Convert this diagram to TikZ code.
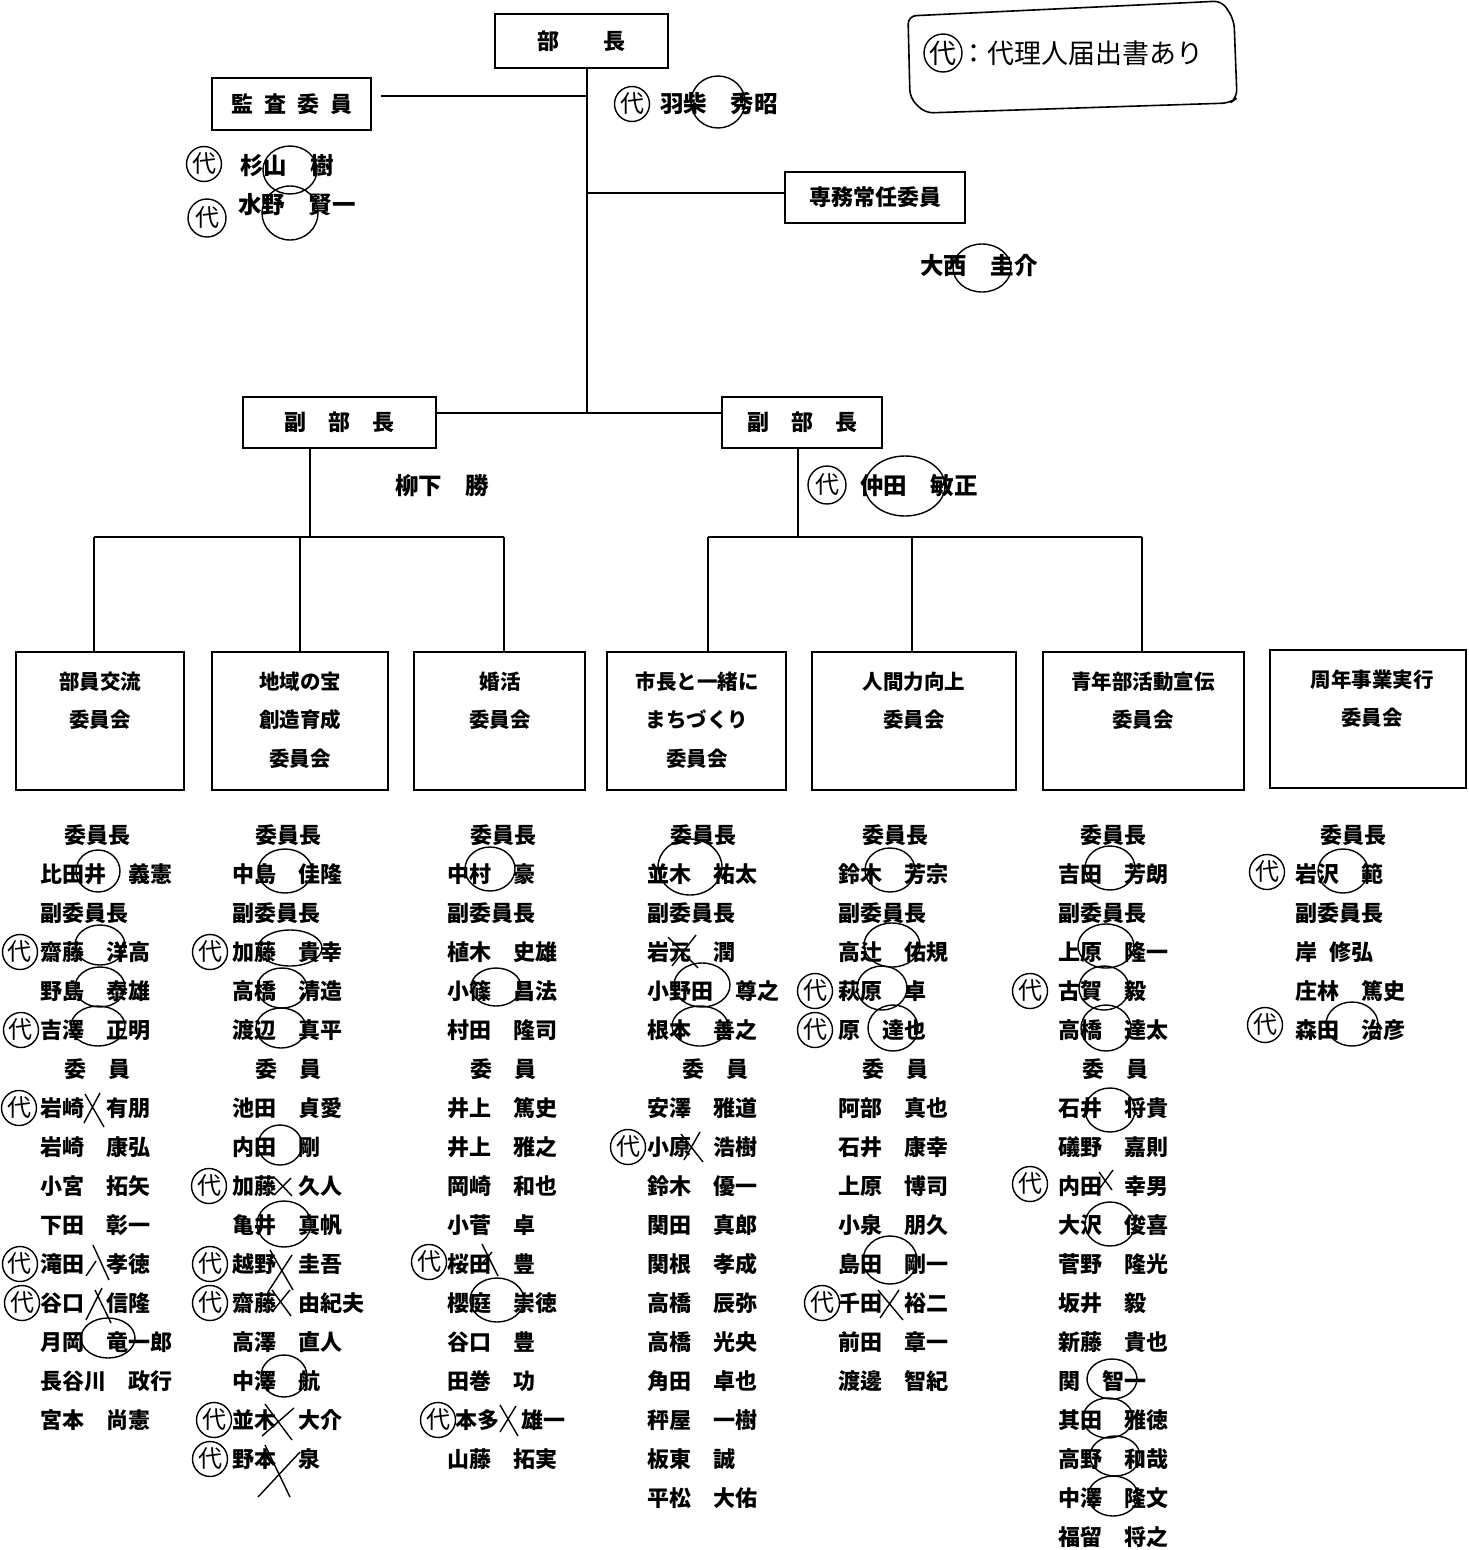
\documentclass[tikz,border=0pt]{standalone}
\usepackage{fontspec}
\newfontfamily\jp{Noto Sans CJK JP}
\begin{document}
\begin{tikzpicture}[x=1pt,y=-1pt,
  obox/.style={draw, line width=1.6pt, inner sep=0pt, font=\jp\bfseries\fontsize{22pt}{22pt}\selectfont},
  cbox/.style={draw, line width=1.6pt, inner sep=0pt},
  ctext/.style={inner sep=0pt, font=\jp\bfseries\fontsize{20.5pt}{20.5pt}\selectfont},
  nm/.style={anchor=west, inner sep=0pt, font=\jp\bfseries\fontsize{22pt}{22pt}\selectfont},
  topnm/.style={inner sep=0pt, font=\jp\bfseries\fontsize{23.5pt}{23.5pt}\selectfont},
  dai/.style={circle, draw, line width=1.4pt, inner sep=0pt, minimum size=35pt, font=\jp\fontsize{24pt}{24pt}\selectfont},
  ringst/.style={line width=1.4pt},
  conn/.style={line width=1.5pt}]
\useasboundingbox (0,0) rectangle (1468,1550);
\fill[white] (0,0) rectangle (1468,1550);

% ---------- top boxes ----------
\node[obox, minimum width=173pt, minimum height=54pt] (bucho) at (581.5,41) {部　　長};
\node[obox, minimum width=159pt, minimum height=52pt] (kansa) at (291.5,104) {監\hspace{11pt}査\hspace{11pt}委\hspace{11pt}員};
\node[obox, minimum width=180pt, minimum height=51pt] (senmu) at (875,197.5) {専務常任委員};
\node[obox, minimum width=193pt, minimum height=51pt] (fuku1) at (339.5,422.5) {副　部　長};
\node[obox, minimum width=160pt, minimum height=51pt] (fuku2) at (802,422.5) {副　部　長};

\coordinate (jA) at (587,96);
\coordinate (jB) at (587,193);
\coordinate (jC) at (587,413);
\coordinate (kA) at (381,96);
\draw[conn] (bucho.south -| jA) -- (jC);
\draw[conn] (kA) -- (jA);
\draw[conn] (jB) -- (senmu.west |- jB);
\draw[conn] (fuku1.east |- jC) -- (fuku2.west |- jC);

% ---------- committee boxes ----------
\node[cbox, minimum width=168pt, minimum height=138pt] (c1) at (100,721) {};
\node[cbox, minimum width=176pt, minimum height=138pt] (c2) at (300,721) {};
\node[cbox, minimum width=171pt, minimum height=138pt] (c3) at (499.5,721) {};
\node[cbox, minimum width=179pt, minimum height=138pt] (c4) at (696.5,721) {};
\node[cbox, minimum width=204pt, minimum height=138pt] (c5) at (914,721) {};
\node[cbox, minimum width=201pt, minimum height=138pt] (c6) at (1143.5,721) {};
\node[cbox, minimum width=196pt, minimum height=138pt] (c7) at (1368,719) {};

\node[ctext] (c1a) at (100,682) {部員交流};
\node[ctext] (c1b) at (100,720) {委員会};
\node[ctext] (c2a) at (300,682) {地域の宝};
\node[ctext] (c2b) at (300,720) {創造育成};
\node[ctext] (c2c) at (300,759) {委員会};
\node[ctext] (c3a) at (500,682) {婚活};
\node[ctext] (c3b) at (500,720) {委員会};
\node[ctext] (c4a) at (697,682) {市長と一緒に};
\node[ctext] (c4b) at (697,720) {まちづくり};
\node[ctext] (c4c) at (697,759) {委員会};
\node[ctext] (c5a) at (914,682) {人間力向上};
\node[ctext] (c5b) at (914,720) {委員会};
\node[ctext] (c6a) at (1143,682) {青年部活動宣伝};
\node[ctext] (c6b) at (1143,720) {委員会};
\node[ctext] (c7a) at (1372,680) {周年事業実行};
\node[ctext] (c7b) at (1372,718) {委員会};

% ---------- sub connectors ----------
\coordinate (lj) at (310,537);
\coordinate (rj) at (798,537);
\coordinate (d1) at (94,537);
\coordinate (d2) at (300,537);
\coordinate (d3) at (504,537);
\coordinate (d4) at (708,537);
\coordinate (d5) at (912,537);
\coordinate (d6) at (1142,537);
\draw[conn] (fuku1.south -| lj) -- (lj);
\draw[conn] (fuku2.south -| rj) -- (rj);
\draw[conn] (d1) -- (d3);
\draw[conn] (d4) -- (d6);
\draw[conn] (d1) -- (d1 |- c1.north);
\draw[conn] (d2) -- (d2 |- c2.north);
\draw[conn] (d3) -- (d3 |- c3.north);
\draw[conn] (d4) -- (d4 |- c4.north);
\draw[conn] (d5) -- (d5 |- c5.north);
\draw[conn] (d6) -- (d6 |- c6.north);

% ---------- officer names ----------
\node[dai] (dHa) at (632,104) {代};
\node[topnm, anchor=west] (hashiba) at (660,104) {羽柴　秀昭};
\draw[ringst] (718,102) ellipse [x radius=27, y radius=26];

\node[dai] (dSu) at (204,164) {代};
\node[topnm, anchor=west] (sugi) at (240,166) {杉山　樹};
\draw[ringst] (290,170) ellipse [x radius=27, y radius=24];
\node[dai, minimum size=38pt] (dMi) at (207,218) {代};
\node[topnm, anchor=west] (mizuno) at (238,205) {水野　賢一};
\draw[ringst] (290,213) ellipse [x radius=28, y radius=27];

\node[topnm] (onishi) at (979,266) {大西　圭介};
\draw[ringst] (982,268) ellipse [x radius=29, y radius=24];

\node[topnm] (yanagi) at (442,486) {柳下　勝};
\node[dai, minimum size=38pt] (dNa) at (827,485) {代};
\node[topnm, anchor=west] (nakata) at (860,486) {仲田　敏正};
\draw[ringst] (905,486) ellipse [x radius=40, y radius=30];

% ---------- legend ----------
\draw[line width=1.6pt, rounded corners=8pt] (910,98) -- (908,16) -- (1222,1) -- (1234,20) -- (1237,98) -- (1230,103) -- (925,113) -- cycle;
\node[dai, minimum size=38pt, font=\jp\fontsize{27pt}{27pt}\selectfont] (lgd) at (943,53) {代};
\node[anchor=west, inner sep=0pt, font=\jp\fontsize{27pt}{27pt}\selectfont] (lgt) at (960,53) {：代理人届出書あり};

% ---------- member lists ----------
\foreach \ind/\txt [count=\r from 0] in {24/委員長,0/比田井　義憲,0/副委員長,0/齋藤　洋高,0/野島　泰雄,0/吉澤　正明,24/委　員,0/岩崎　有朋,0/岩崎　康弘,0/小宮　拓矢,0/下田　彰一,0/滝田　孝徳,0/谷口　信隆,0/月岡　竜一郎,0/長谷川　政行,0/宮本　尚憲}
  {\node[nm] (ma\r) at ({40+\ind},{835+39*\r}) {\txt};}
\foreach \ind/\txt [count=\r from 0] in {23/委員長,0/中島　佳隆,0/副委員長,0/加藤　貴幸,0/高橋　清造,0/渡辺　真平,23/委　員,0/池田　貞愛,0/内田　剛,0/加藤　久人,0/亀井　真帆,0/越野　圭吾,0/齋藤　由紀夫,0/高澤　直人,0/中澤　航,0/並木　大介,0/野本　泉}
  {\node[nm] (mb\r) at ({232+\ind},{835+39*\r}) {\txt};}
\foreach \ind/\txt [count=\r from 0] in {23/委員長,0/中村　豪,0/副委員長,0/植木　史雄,0/小篠　昌法,0/村田　隆司,23/委　員,0/井上　篤史,0/井上　雅之,0/岡崎　和也,0/小菅　卓,0/桜田　豊,0/櫻庭　崇徳,0/谷口　豊,0/田巻　功,8/本多　雄一,0/山藤　拓実}
  {\node[nm] (mc\r) at ({447+\ind},{835+39*\r}) {\txt};}
\foreach \ind/\txt [count=\r from 0] in {23/委員長,0/並木　祐太,0/副委員長,0/岩元　潤,0/小野田　尊之,0/根本　善之,35/委　員,0/安澤　雅道,0/小原　浩樹,0/鈴木　優一,0/関田　真郎,0/関根　孝成,0/高橋　辰弥,0/高橋　光央,0/角田　卓也,0/秤屋　一樹,0/板東　誠,0/平松　大佑}
  {\node[nm] (md\r) at ({647+\ind},{835+39*\r}) {\txt};}
\foreach \ind/\txt [count=\r from 0] in {24/委員長,0/鈴木　芳宗,0/副委員長,0/高辻　佑規,0/萩原　卓,0/原　達也,24/委　員,0/阿部　真也,0/石井　康幸,0/上原　博司,0/小泉　朋久,0/島田　剛一,0/千田　裕二,0/前田　章一,0/渡邊　智紀}
  {\node[nm] (me\r) at ({838+\ind},{835+39*\r}) {\txt};}
\foreach \ind/\txt [count=\r from 0] in {22/委員長,0/吉田　芳朗,0/副委員長,0/上原　隆一,0/古賀　毅,0/高橋　達太,24/委　員,0/石井　将貴,0/礒野　嘉則,0/内田　幸男,0/大沢　俊喜,0/菅野　隆光,0/坂井　毅,0/新藤　貴也,0/関　智一,0/其田　雅徳,0/高野　和哉,0/中澤　隆文,0/福留　将之}
  {\node[nm] (mf\r) at ({1058+\ind},{835+39*\r}) {\txt};}
\foreach \ind/\txt [count=\r from 0] in {25/委員長,0/岩沢　範,0/副委員長,0/岸\hspace{12pt}修弘,0/庄林　篤史,0/森田　治彦}
  {\node[nm] (mg\r) at ({1295+\ind},{835+39*\r}) {\txt};}

% ---------- proxy marks ----------
\foreach \px/\py [count=\k] in {20/952,21/1030,19/1108,20/1264,22/1303,210/952,209/1186,210/1264,210/1303,214/1420,210/1459,429/1262,438/1420,628/1147,815/991,815/1030,822/1303,1030/991,1030/1184,1267/872,1265/1025}
  {\node[dai] (pm\k) at (\px,\py) {代};}

% ---------- attendance rings ----------
\foreach \ex/\ey/\rx/\ry in {98/871/22/21,100/945/25/20,100/987/25/20,98/1026/27/20,108/1338/27/20,
  285/871/27/22,290/948/32/18,282/988/25/20,281/1028/25/20,280/1145/22/20,284/1224/27/23,284/1376/23/21,
  490/869/25/22,496/987/25/19,497/1300/27/22,
  690/867/32/28,702/985/28/22,700/1026/28/20,
  890/870/25/22,892/945/28/22,882/988/25/22,893/1028/25/23,890/1260/27/24,
  1110/868/25/22,1106/946/28/22,1104/988/25/22,1106/1028/25/23,1110/1110/25/22,1110/1224/25/22,1112/1379/25/20,1108/1418/25/20,1115/1456/25/20,1113/1496/25/20,
  1343/871/25/22,1352/1024/26/22}
  {\draw[ringst] (\ex,\ey) ellipse [x radius=\rx, y radius=\ry];}

% ---------- absence crosses ----------
\foreach \ax/\ay/\bx/\by/\cx/\cy/\dx/\dy in {
  85/1094/104/1127/84/1123/100/1093,
  93/1245/109/1280/86/1276/96/1261,
  86/1320/102/1288/95/1290/111/1323,
  275/1178/292/1196/274/1195/291/1178,
  270/1250/293/1290/292/1255/268/1292,
  272/1290/291/1316/290/1290/272/1312,
  265/1404/292/1440/294/1408/262/1436,
  265/1445/290/1497/300/1452/258/1497,
  482/1244/498/1276/478/1268/492/1252,
  500/1405/518/1436/516/1406/500/1432,
  668/937/698/968/696/935/672/966,
  681/1134/703/1162/700/1132/684/1160,
  878/1290/903/1320/899/1290/880/1318,
  1099/1172/1112/1190/1113/1170/1100/1188}
  {\draw[ringst] (\ax,\ay) -- (\bx,\by) (\cx,\cy) -- (\dx,\dy);}
\end{tikzpicture}
\end{document}
